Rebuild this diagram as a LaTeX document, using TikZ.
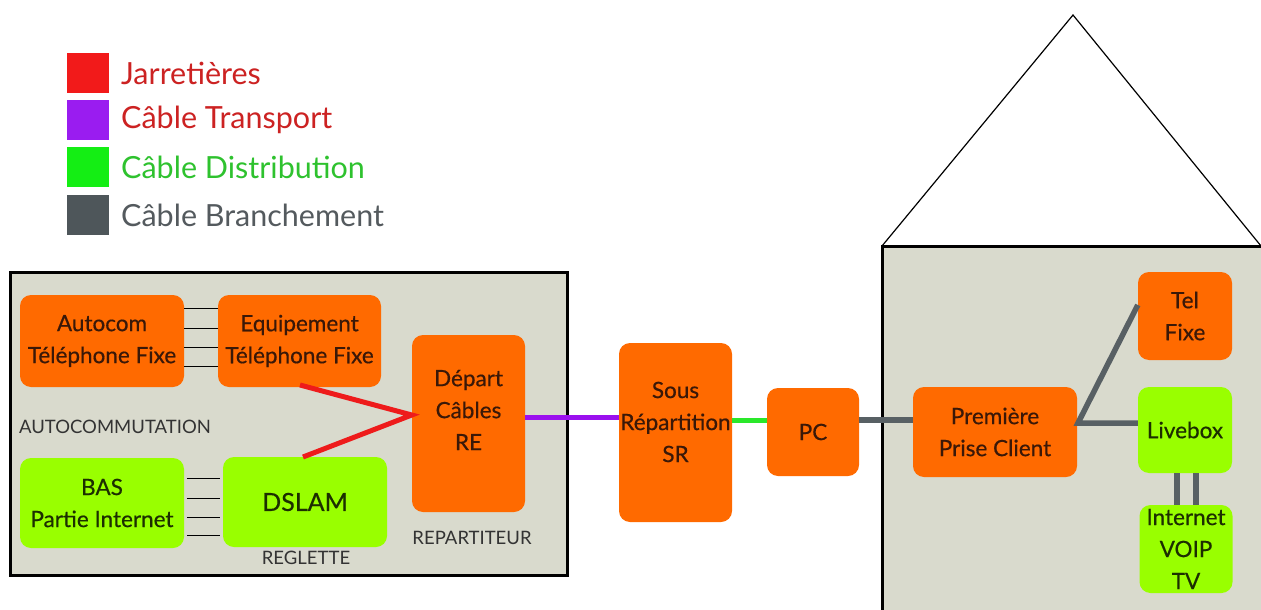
\documentclass[tikz,border=0pt]{standalone}
\usepackage{fontspec}
\setmainfont{Lato}
\newfontfamily\medfont{Lato}[FakeBold=0.5]
\usetikzlibrary{calc}
\definecolor{orng}{HTML}{FF6A00}
\definecolor{lime}{HTML}{99FF00}
\definecolor{panel}{HTML}{D9DACD}
\definecolor{otxt}{HTML}{3A1808}
\definecolor{gtxt}{HTML}{1C2E00}
\definecolor{jred}{HTML}{EE1B1B}
\definecolor{tpurp}{HTML}{9B10EE}
\definecolor{dgreen}{HTML}{2AE82A}
\definecolor{bgrey}{HTML}{586064}
\definecolor{lgred}{HTML}{F21A1A}
\definecolor{lgpurp}{HTML}{9A1CF0}
\definecolor{lggreen}{HTML}{14EE14}
\definecolor{lggrey}{HTML}{4E565A}
\definecolor{tred}{HTML}{CC2222}
\definecolor{tgreen}{HTML}{2EC22E}
\definecolor{tgrey}{HTML}{545A5E}
\definecolor{lbl}{HTML}{333333}
\begin{document}
\begin{tikzpicture}[x=1pt,y=-1pt,
  box/.style={rounded corners=11pt, inner sep=0pt, align=center, font=\medfont\fontsize{22.5}{32}\selectfont},
  obox/.style={box, fill=orng, text=otxt},
  gbox/.style={box, fill=lime, text=gtxt},
  btxt/.style={inner sep=0pt, align=center, font=\medfont\fontsize{22.5}{32}\selectfont},
  small/.style={inner sep=0pt, text=lbl, font=\fontsize{18.5}{22}\selectfont},
  legsq/.style={inner sep=0pt, minimum width=42pt, minimum height=40pt},
  legtxt/.style={inner sep=0pt, anchor=west, font=\fontsize{30.5}{32}\selectfont},
  thin/.style={draw=black, line width=1pt},
  jar/.style={draw=jred, line width=5pt},
  trans/.style={draw=tpurp, line width=5pt},
  distr/.style={draw=dgreen, line width=5pt},
  branch/.style={draw=bgrey, line width=5.5pt}
]
\useasboundingbox (0,0) rectangle (1261,610);
\fill[white] (0,0) rectangle (1261,610);

% legend
\node[legsq, fill=lgred] (s1) at (88,73) {};
\node[legsq, fill=lgpurp] (s2) at (88,120) {};
\node[legsq, fill=lggreen] (s3) at (88,167) {};
\node[legsq, fill=lggrey] (s4) at (88,215) {};
\node[legtxt, text=tred] (t1) at (121,73) {Jarretières};
\node[legtxt, text=tred] (t2) at (121,120) {Câble Transport};
\node[legtxt, text=tgreen] (t3) at (121,167) {Câble Distribution};
\node[legtxt, text=tgrey] (t4) at (121,215) {Câble Branchement};

% central office panel
\draw[fill=panel, line width=3pt] (10,272) rectangle (567,575);

% house
\draw[line width=1.2pt] (882,246) -- (1073,15) -- (1261,246);
\fill[panel] (882,246) rectangle (1262,611);
\draw[line width=3pt] (882,612) -- (882,246) -- (1263,246);

% boxes
\node[obox, minimum width=164pt, minimum height=92pt] (autocom) at (102,341) {Autocom\\Téléphone Fixe};
\node[obox, minimum width=163pt, minimum height=92pt] (equip) at (299.5,341) {Equipement\\Téléphone Fixe};
\node[obox, minimum width=113pt, minimum height=177pt] (depart) at (468.5,423.5) {};
\node[btxt, text=otxt] (departtxt) at (468.5,410) {Départ\\Câbles\\RE};
\node[gbox, minimum width=164pt, minimum height=90pt] (bas) at (102,503) {BAS\\Partie Internet};
\node[gbox, minimum width=164pt, minimum height=90pt, font=\medfont\fontsize{25}{32}\selectfont] (dslam) at (305,502) {DSLAM};
\node[obox, minimum width=113pt, minimum height=179pt] (sr) at (675.5,432.5) {};
\node[btxt, text=otxt] (srtxt) at (675.5,422) {Sous\\Répartition\\SR};
\node[obox, minimum width=92pt, minimum height=88pt] (pc) at (813,432) {PC};
\node[obox, minimum width=164pt, minimum height=90pt] (prem) at (995,432) {Première\\Prise Client};
\node[obox, minimum width=94pt, minimum height=88pt] (tel) at (1185,316) {Tel\\Fixe};
\node[gbox, minimum width=94pt, minimum height=86pt] (live) at (1185,430) {Livebox};
\node[gbox, minimum width=93pt, minimum height=88pt] (inet) at (1186,549) {};
\node[btxt, text=gtxt] (inettxt) at (1186,549) {Internet\\VOIP\\TV};

% labels
\node[small] (lauto) at (115,427) {AUTOCOMMUTATION};
\node[small] (lrep) at (472,538) {REPARTITEUR};
\node[small] (lreg) at (306,558) {REGLETTE};

% thin links
\foreach \yy in {308,328,347,366}
  \draw[thin] (autocom.east |- 0,\yy) -- (equip.west |- 0,\yy);
\foreach \yy in {478,498,517,535}
  \draw[thin, shorten <=3pt, shorten >=3pt] (bas.east |- 0,\yy) -- (dslam.west |- 0,\yy);

% jarretieres
\coordinate (rj) at (depart.west |- 0,415);
\draw[jar] (300,385) -- (rj) -- (303,457);

% cables
\draw[trans] (depart.east |- 0,417) -- (sr.west |- 0,417);
\draw[distr] (sr.east |- 0,420) -- (pc.west |- 0,420);
\draw[branch] (pc.east |- 0,420) -- (prem.west |- 0,420);
\coordinate (pj) at (1078,423);
\draw[branch] (tel.west |- 0,305) -- (pj) -- (live.west |- 0,423);
\draw[branch] (live.south -| 1177,0) -- (inet.north -| 1177,0);
\draw[branch] (live.south -| 1196,0) -- (inet.north -| 1196,0);
\end{tikzpicture}
\end{document}
